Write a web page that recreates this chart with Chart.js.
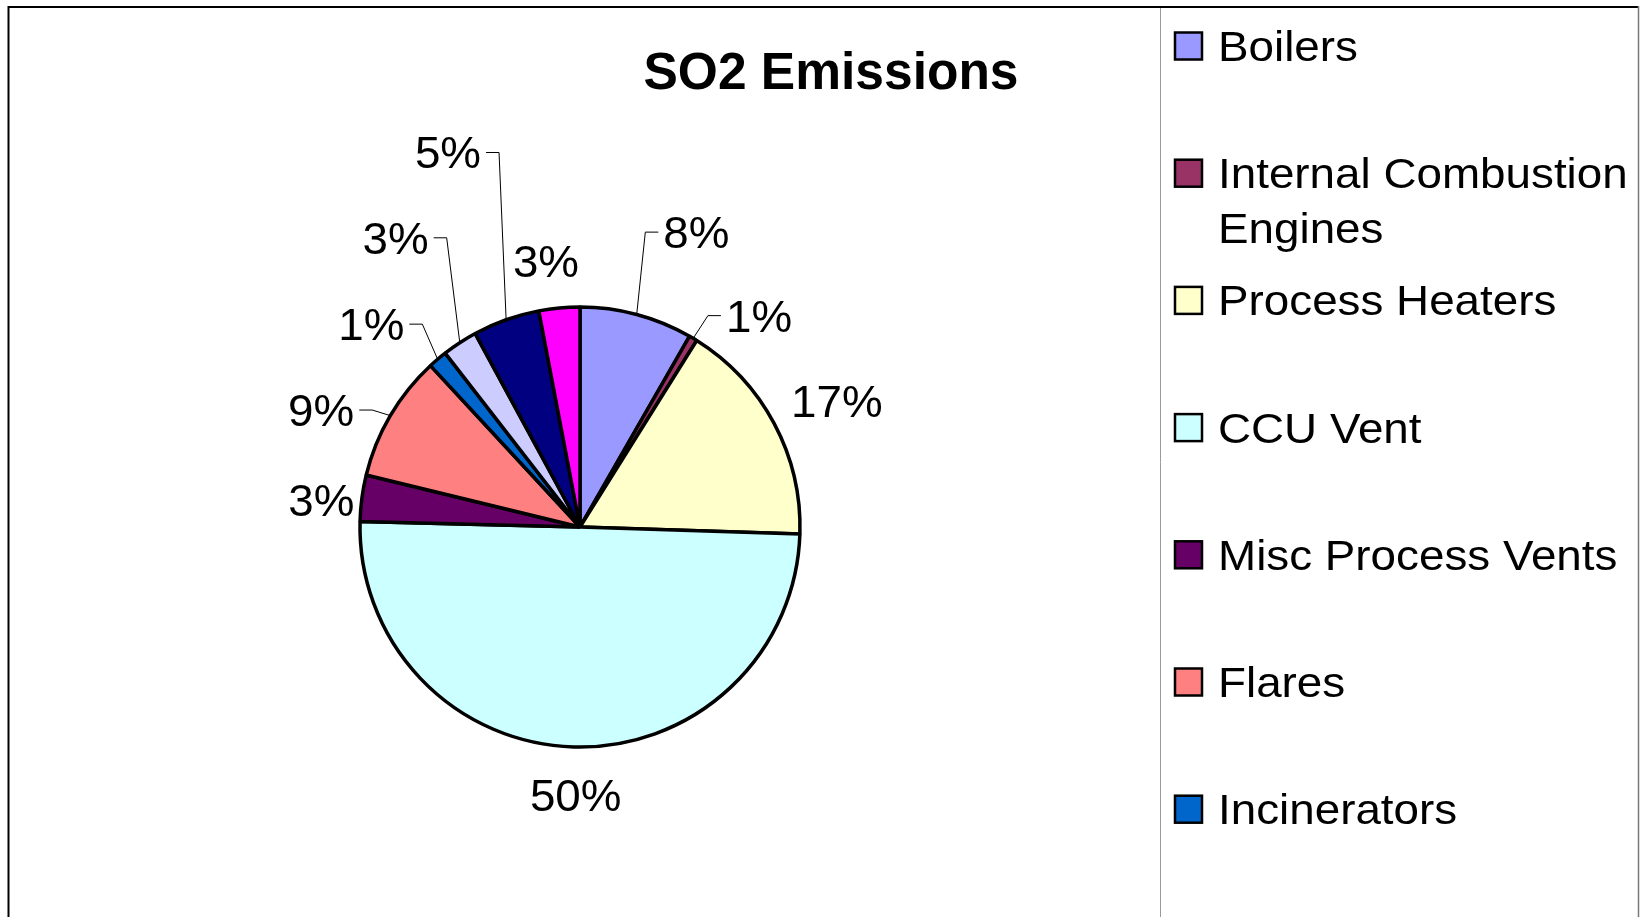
<!DOCTYPE html>
<html>
<head>
<meta charset="utf-8">
<script src="https://cdn.jsdelivr.net/npm/chart.js@4.4.0/dist/chart.umd.min.js"></script>
<style>
html,body{margin:0;padding:0;background:#ffffff;overflow:hidden}
#wrap{width:1645px;height:917px;position:relative}
canvas{display:block}
</style>
</head>
<body>
<div id="wrap"><canvas id="c" width="1645" height="917"></canvas></div>
<script>
// ---------- data ----------
const chartTitle = 'SO2 Emissions';
const categories = ['Boilers', 'Internal Combustion Engines', 'Process Heaters', 'CCU Vent',
  'Misc Process Vents', 'Flares', 'Incinerators', 'Other Source A', 'Other Source B', 'Other Source C'];
const shares = [8.3, 0.6, 16.6, 49.9, 3.4, 9.3, 1.4, 2.6, 4.9, 3.0];
const sliceColors = ['#9999FF', '#993366', '#FFFFCC', '#CCFFFF', '#660066', '#FF8080', '#0066CC', '#CCCCFF', '#000080', '#FF00FF'];

// ---------- label layout (angle shift in degrees, distance as fraction of radius) ----------
const labelShift = [6.6, 9.3, 2.0, -0.7, -1.6, -6.1, -5.5, 0.6, 0.2, -1.9];
const labelDist = [1.441, 1.259, 1.30, 1.218, 1.182, 1.291, 1.323, 1.559, 1.805, 1.218];
const labelLeader = [true, true, false, false, false, true, true, true, true, false];

const FONT = '"Liberation Sans", Arial, sans-serif';

function stretchText(ctx, text, x, y, font, sx, align) {
  ctx.save();
  ctx.font = font;
  const w = ctx.measureText(text).width * sx;
  let left = x;
  if (align === 'center') left = x - w / 2;
  else if (align === 'right') left = x - w;
  ctx.translate(left, y);
  ctx.scale(sx, 1);
  ctx.textAlign = 'left';
  ctx.textBaseline = 'alphabetic';
  ctx.fillText(text, 0, 0);
  ctx.restore();
  return w;
}

const framePlugin = {
  id: 'frame',
  beforeDraw(chart) {
    const ctx = chart.ctx;
    ctx.save();
    ctx.fillStyle = '#ffffff';
    ctx.fillRect(0, 0, chart.width, chart.height);
    ctx.strokeStyle = '#000000';
    ctx.lineWidth = 2;
    ctx.beginPath();
    ctx.moveTo(7.5, 7); ctx.lineTo(1639, 7);
    ctx.moveTo(8.5, 6); ctx.lineTo(8.5, chart.height);
    ctx.stroke();
    ctx.strokeStyle = '#7a7a7a';
    ctx.lineWidth = 1.5;
    ctx.beginPath();
    ctx.moveTo(1638.5, 6); ctx.lineTo(1638.5, chart.height);
    ctx.stroke();
    ctx.strokeStyle = '#9a9a9a';
    ctx.lineWidth = 1;
    ctx.beginPath();
    ctx.moveTo(1160.5, 8); ctx.lineTo(1160.5, chart.height);
    ctx.stroke();
    ctx.restore();
  }
};

const titlePlugin = {
  id: 'customTitle',
  afterDraw(chart) {
    const ctx = chart.ctx;
    ctx.save();
    ctx.fillStyle = '#000000';
    stretchText(ctx, chartTitle, 831, 89, 'bold 51px ' + FONT, 1.01, 'center');
    ctx.restore();
  }
};

const labelPlugin = {
  id: 'pctLabels',
  afterDatasetsDraw(chart) {
    const ctx = chart.ctx;
    const meta = chart.getDatasetMeta(0);
    const values = chart.data.datasets[0].data;
    const total = values.reduce((a, b) => a + b, 0);
    const font = '44px ' + FONT;
    const sx = 1.04;
    ctx.save();
    ctx.font = font;
    meta.data.forEach((arc, i) => {
      const p = arc.getProps(['x', 'y', 'startAngle', 'endAngle', 'outerRadius'], true);
      const mid = (p.startAngle + p.endAngle) / 2;
      const a = mid + labelShift[i] * Math.PI / 180;
      const lx = p.x + Math.cos(a) * p.outerRadius * labelDist[i];
      const ly = p.y + Math.sin(a) * p.outerRadius * labelDist[i];
      const txt = Math.round(values[i] / total * 100) + '%';
      ctx.fillStyle = '#000000';
      const w = stretchText(ctx, txt, lx, ly + 16, font, sx, 'center');
      if (labelLeader[i]) {
        const right = lx > p.x;
        const edge = right ? lx - w / 2 - 5 : lx + w / 2 + 5;
        const elbow = right ? edge - 13 : edge + 13;
        const ax = p.x + Math.cos(mid) * p.outerRadius;
        const ay = p.y + Math.sin(mid) * p.outerRadius;
        ctx.strokeStyle = '#000000';
        ctx.lineWidth = 1;
        ctx.beginPath();
        ctx.moveTo(edge, ly);
        ctx.lineTo(elbow, ly);
        ctx.lineTo(ax, ay);
        ctx.stroke();
      }
    });
    ctx.restore();
  }
};

const legendPlugin = {
  id: 'customLegend',
  afterDraw(chart) {
    const ctx = chart.ctx;
    const font = '42px ' + FONT;
    const sx = 1.09;
    const boxX = 1175, boxW = 27, boxH = 27;
    const textX = 1218, maxW = 418;
    const firstY = 46, step = 127.2, lineH = 55;
    ctx.save();
    ctx.font = font;
    categories.forEach((name, i) => {
      const cy = firstY + i * step;
      ctx.fillStyle = sliceColors[i];
      ctx.fillRect(boxX, cy - boxH / 2, boxW, boxH);
      ctx.strokeStyle = '#000000';
      ctx.lineWidth = 2.5;
      ctx.strokeRect(boxX, cy - boxH / 2, boxW, boxH);
      // wrap words
      const words = name.split(' ');
      const lines = [];
      let cur = '';
      words.forEach(wd => {
        const test = cur ? cur + ' ' + wd : wd;
        ctx.font = font;
        if (ctx.measureText(test).width * sx > maxW && cur) {
          lines.push(cur);
          cur = wd;
        } else cur = test;
      });
      if (cur) lines.push(cur);
      ctx.fillStyle = '#000000';
      lines.forEach((ln, k) => {
        stretchText(ctx, ln, textX, cy + 15 + k * lineH, font, sx, 'left');
      });
    });
    ctx.restore();
  }
};

new Chart(document.getElementById('c').getContext('2d'), {
  type: 'pie',
  data: {
    labels: categories,
    datasets: [{
      data: shares,
      backgroundColor: sliceColors,
      borderColor: '#000000',
      borderWidth: 3.5
    }]
  },
  options: {
    responsive: false,
    animation: false,
    events: [],
    radius: 220,
    layout: { padding: { left: 100, right: 585, top: 147, bottom: 10 } },
    plugins: {
      legend: { display: false },
      title: { display: false },
      tooltip: { enabled: false }
    }
  },
  plugins: [framePlugin, labelPlugin, titlePlugin, legendPlugin]
});
</script>
</body>
</html>
